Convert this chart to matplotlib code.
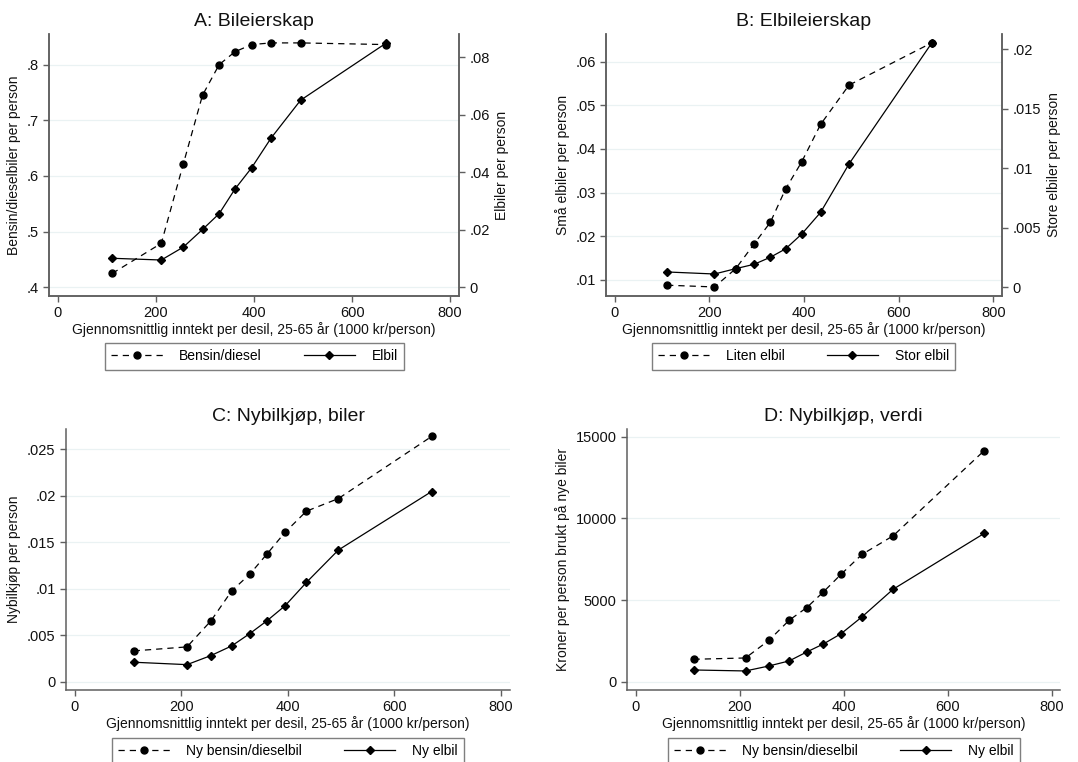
import numpy as np
import matplotlib
matplotlib.use("Agg")
import matplotlib.pyplot as plt
from matplotlib.ticker import FuncFormatter

plt.rcParams['font.family'] = ['Liberation Sans', 'DejaVu Sans']

# income per decile (1000 kr/person)
inntekt = [111, 211, 256, 295, 329, 361, 395, 435, 495, 670]

# A: Bileierskap
bensin_eier = [0.425, 0.479, 0.622, 0.745, 0.800, 0.823, 0.836, 0.839, 0.839, 0.836]
elbil_eier = [0.0101, 0.0095, 0.0140, 0.0201, 0.0256, 0.0341, 0.0415, 0.0519, 0.0650, 0.0849]

# B: Elbileierskap
liten_elbil = [0.0088, 0.0084, 0.0126, 0.0183, 0.0232, 0.0308, 0.0370, 0.0456, 0.0546, 0.0643]
stor_elbil = [0.00129, 0.00112, 0.00157, 0.00194, 0.00253, 0.00323, 0.00447, 0.0063, 0.01037, 0.02056]

# C: Nybilkjøp, biler
ny_bensin = [0.00331, 0.00374, 0.00655, 0.00978, 0.01158, 0.01374, 0.01608, 0.01835, 0.01971, 0.0264]
ny_elbil = [0.00209, 0.00183, 0.00281, 0.00385, 0.00518, 0.00655, 0.00817, 0.01068, 0.01417, 0.02047]

# D: Nybilkjøp, verdi
verdi_bensin = [1370, 1450, 2530, 3760, 4540, 5500, 6580, 7790, 8930, 14140]
verdi_elbil = [715, 655, 960, 1270, 1820, 2310, 2940, 3965, 5660, 9075]

xlabel = "Gjennomsnittlig inntekt per desil, 25-65 år (1000 kr/person)"
SPINE = '#5f5f5f'
GRID = '#eaf2f3'
TXT = '#111111'


def stata_fmt(v, pos):
    if abs(v) < 1e-12:
        return "0"
    s = f"{v:g}"
    if s.startswith("0."):
        s = s[1:]
    return s


def style(ax, grid=True):
    ax.spines['top'].set_visible(False)
    for sp in ax.spines.values():
        sp.set_color(SPINE)
        sp.set_linewidth(1.1)
    ax.tick_params(colors=SPINE, labelcolor=TXT, labelsize=10.5, length=4, width=1)
    if grid:
        ax.yaxis.grid(True, color=GRID, linewidth=0.9)
        ax.set_axisbelow(True)


def dashed(ax, y, label):
    return ax.plot(inntekt, y, color='black', lw=0.9, dashes=(5, 4),
                   marker='o', ms=5, label=label)[0]


def solid(ax, y, label):
    return ax.plot(inntekt, y, color='black', lw=0.9,
                   marker='D', ms=4.5, label=label)[0]


def legend(fig, handles, x, y):
    lg = fig.legend(handles=handles, loc='upper center', bbox_to_anchor=(x, y),
                    ncol=2, fontsize=10, frameon=True, fancybox=False,
                    handlelength=3.7, columnspacing=3.0, handletextpad=1.2,
                    borderpad=0.45, borderaxespad=0)
    lg.get_frame().set_edgecolor(SPINE)
    lg.get_frame().set_linewidth(1.0)


fig = plt.figure(figsize=(10.78, 7.62), dpi=100)
W, H = 1078, 762


def rect(l, t, r, b):
    return [l / W, 1 - b / H, (r - l) / W, (b - t) / H]


# Panel A
ax = fig.add_axes(rect(49, 34, 459, 296))
ax2 = ax.twinx()
h1 = dashed(ax, bensin_eier, "Bensin/diesel")
h2 = solid(ax2, elbil_eier, "Elbil")
ax.set_xlim(-18, 818)
ax.set_ylim(0.3844, 0.855)
ax2.set_ylim(-0.003, 0.088)
ax.set_yticks([0.4, 0.5, 0.6, 0.7, 0.8])
ax2.set_yticks([0, 0.02, 0.04, 0.06, 0.08])
style(ax)
style(ax2, grid=False)
ax.set_ylabel("Bensin/dieselbiler per person", fontsize=10, color=TXT)
ax2.set_ylabel("Elbiler per person", fontsize=10, color=TXT)
ax.set_title("A: Bileierskap", fontsize=14, color=TXT, pad=6)
legend(fig, [h1, h2], 254.5 / W, 1 - 343 / H)
axes_a = (ax, ax2)

# Panel B
ax = fig.add_axes(rect(606, 34, 1002, 296))
ax2 = ax.twinx()
h1 = dashed(ax, liten_elbil, "Liten elbil")
h2 = solid(ax2, stor_elbil, "Stor elbil")
ax.set_xlim(-18, 818)
ax.set_ylim(0.00633, 0.0663)
ax2.set_ylim(-0.00073, 0.0213)
ax.set_yticks([0.01, 0.02, 0.03, 0.04, 0.05, 0.06])
ax2.set_yticks([0, 0.005, 0.01, 0.015, 0.02])
style(ax)
style(ax2, grid=False)
ax.set_ylabel("Små elbiler per person", fontsize=10, color=TXT)
ax2.set_ylabel("Store elbiler per person", fontsize=10, color=TXT)
ax.set_title("B: Elbileierskap", fontsize=14, color=TXT, pad=6)
legend(fig, [h1, h2], 803.5 / W, 1 - 343 / H)
axes_b = (ax, ax2)

# Panel C
ax = fig.add_axes(rect(66, 429, 510, 690))
h1 = dashed(ax, ny_bensin, "Ny bensin/dieselbil")
h2 = solid(ax, ny_elbil, "Ny elbil")
ax.set_xlim(-16, 817)
ax.set_ylim(-0.0009, 0.0272)
ax.set_yticks([0, 0.005, 0.01, 0.015, 0.02, 0.025])
style(ax)
ax.spines['right'].set_visible(False)
ax.set_ylabel("Nybilkjøp per person", fontsize=10, color=TXT)
ax.set_title("C: Nybilkjøp, biler", fontsize=14, color=TXT, pad=6)
legend(fig, [h1, h2], 288 / W, 1 - 738 / H)
axes_c = (ax,)

# Panel D
ax = fig.add_axes(rect(627, 429, 1060, 690))
h1 = dashed(ax, verdi_bensin, "Ny bensin/dieselbil")
h2 = solid(ax, verdi_elbil, "Ny elbil")
ax.set_xlim(-17, 816)
ax.set_ylim(-511, 15471)
ax.set_yticks([0, 5000, 10000, 15000])
style(ax)
ax.spines['right'].set_visible(False)
ax.set_ylabel("Kroner per person brukt på nye biler", fontsize=10, color=TXT)
ax.set_title("D: Nybilkjøp, verdi", fontsize=14, color=TXT, pad=6)
legend(fig, [h1, h2], 844 / W, 1 - 738 / H)
axes_d = (ax,)

for group in [axes_a, axes_b, axes_c, axes_d]:
    main = group[0]
    main.set_xticks([0, 200, 400, 600, 800])
    main.set_xlabel(xlabel, fontsize=10, color=TXT, labelpad=1)
    for a in group:
        a.yaxis.set_major_formatter(FuncFormatter(stata_fmt))

fig.savefig("out.png", dpi=100, facecolor='white')
